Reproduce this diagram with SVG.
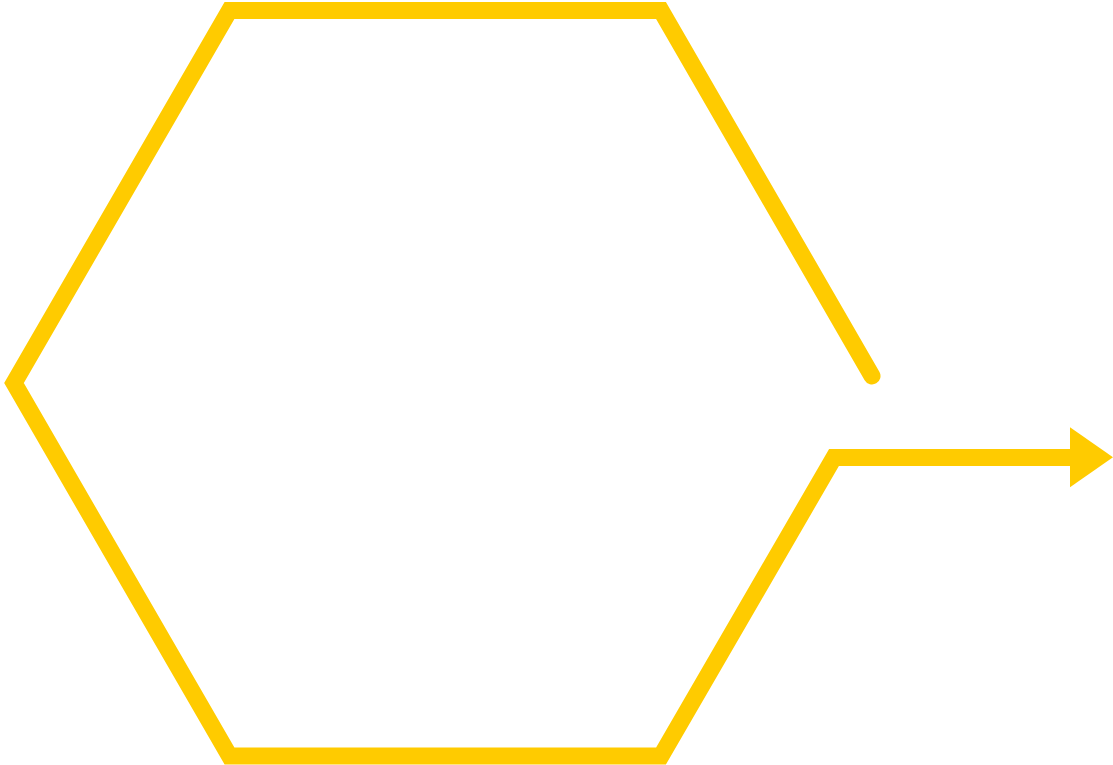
<svg xmlns="http://www.w3.org/2000/svg" width="1113" height="765" viewBox="0 0 1113 765">
<style>
.cycle{fill:none;stroke:#ffcb00;stroke-width:17;stroke-linejoin:miter;stroke-linecap:round;stroke-miterlimit:10}
.head{fill:#ffcb00}
</style>
<rect width="1113" height="765" fill="#ffffff"/>
<g id="connectors">
<path class="cycle" d="M872,376 L661,10.5 L229.5,10.5 L14,383 L229.5,756 L661,756 L834,457.5 L1075,457.5"/>
<polygon class="head" points="1070,427.3 1113,457.3 1070,487.3"/>
</g>
</svg>
